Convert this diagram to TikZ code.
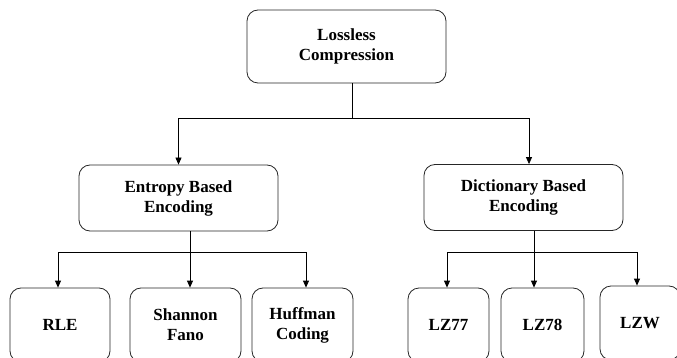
\documentclass[tikz,border=0pt]{standalone}
\usepackage{fontspec}
\setmainfont{Liberation Serif}
\usetikzlibrary{arrows.meta}

\begin{document}
\begin{tikzpicture}[x=1pt, y=-1pt, >={Triangle[length=7pt,width=6pt]}, line width=0.8pt,
    box/.style={draw=black!85, rounded corners=11pt, align=center, inner sep=0pt,
        font=\fontsize{17}{20}\selectfont\bfseries}]
    \useasboundingbox (0,0) rectangle (677,358);
    \clip (0,0) rectangle (677,358);

    % Root
    \node[box, minimum width=199pt, minimum height=73pt] (lossless) at (346.5,46.5) {Lossless\\Compression};

    % Second level
    \node[box, minimum width=199pt, minimum height=66pt] (entropy) at (178.5,198) {Entropy Based\\Encoding};
    \node[box, minimum width=199pt, minimum height=66pt] (dictionary) at (523.5,197.5) {Dictionary Based\\Encoding};

    % Leaves
    \node[box, minimum width=100pt, minimum height=74pt] (rle) at (60,325) {RLE};
    \node[box, minimum width=111pt, minimum height=74pt] (shannon) at (185.5,325) {Shannon\\Fano};
    \node[box, minimum width=101pt, minimum height=74pt] (huffman) at (302.5,325) {Huffman\\Coding};
    \node[box, minimum width=81pt, minimum height=74pt] (lz77) at (448.5,325) {LZ77};
    \node[box, minimum width=83pt, minimum height=74pt] (lz78) at (542.5,325) {LZ78};
    \node[box, minimum width=80pt, minimum height=74pt] (lzw) at (640,323) {LZW};

    % Branch points
    \coordinate (root split) at (352,118);
    \coordinate (entropy split) at (190,252);
    \coordinate (dictionary split) at (534,252);

    % Root to second level
    \draw (lossless.south -| root split) -- (root split);
    \draw[->] (root split) -| (entropy.north);
    \draw[->] (root split) -| ([xshift=5.5pt]dictionary.north);

    % Entropy based branch
    \draw (entropy.south -| entropy split) -- (entropy split);
    \draw[->] (entropy split) -| ([xshift=-2pt]rle.north);
    \draw[->] (entropy split) -- (entropy split |- shannon.north);
    \draw[->] (entropy split) -| ([xshift=3.5pt]huffman.north);

    % Dictionary based branch
    \draw (dictionary.south -| dictionary split) -- (dictionary split);
    \draw[->] (dictionary split) -| ([xshift=-1.5pt]lz77.north);
    \draw[->] (dictionary split) -- (dictionary split |- lz78.north);
    \draw[->] (dictionary split) -| ([xshift=-3pt]lzw.north);
\end{tikzpicture}
\end{document}
